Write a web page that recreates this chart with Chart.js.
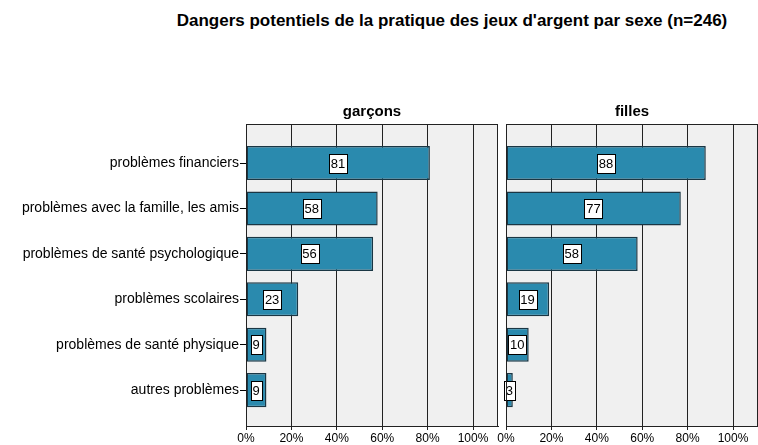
<!DOCTYPE html>
<html>
<head>
<meta charset="utf-8">
<script src="https://cdn.jsdelivr.net/npm/chart.js@4.4.1/dist/chart.umd.min.js"></script>
<style>
  html, body { margin: 0; padding: 0; background: #fff; }
  #wrap { position: relative; width: 758px; height: 445px; overflow: hidden; font-family: Arial, "Liberation Sans", sans-serif; }
  #title { position: absolute; top: 11px; left: 102px; width: 700px; text-align: center; font-weight: bold; font-size: 17px; color: #000; }
  #left { position: absolute; left: 0; top: 0; }
  #right { position: absolute; left: 496px; top: 0; }
</style>
</head>
<body>
<div id="wrap">
  <div id="title">Dangers potentiels de la pratique des jeux d'argent par sexe (n=246)</div>
  <canvas id="left" width="500" height="445"></canvas>
  <canvas id="right" width="262" height="445"></canvas>
</div>
<script>
// data (percent)
const categories = [
    'problèmes financiers',
    'problèmes avec la famille, les amis',
    'problèmes de santé psychologique',
    'problèmes scolaires',
    'problèmes de santé physique',
    'autres problèmes'
];
const garcons = [81, 58, 56, 23, 9, 9];
const filles = [88, 77, 58, 19, 10, 3];
const xTicks = [0, 20, 40, 60, 80, 100];

const fontFamily = 'Arial, "Liberation Sans", sans-serif';
const barColor = '#2a8aae';
const barBorder = '#1a3644';

// grey panel + frame
const panelPlugin = {
    id: 'panel',
    beforeDraw(chart) {
        const a = chart.chartArea;
        const ctx = chart.ctx;
        ctx.save();
        ctx.fillStyle = '#f0f0f0';
        ctx.fillRect(a.left, a.top, a.right - a.left, a.bottom - a.top);
        ctx.restore();
    },
    afterDraw(chart) {
        const a = chart.chartArea;
        const ctx = chart.ctx;
        ctx.save();
        ctx.strokeStyle = '#222';
        ctx.lineWidth = 1;
        ctx.strokeRect(Math.round(a.left) + 0.5, Math.round(a.top) + 0.5,
            Math.round(a.right - a.left) - 1, Math.round(a.bottom - a.top));
        ctx.restore();
    }
};

// white value boxes in the middle of the bars
const valueBoxPlugin = {
    id: 'valueBoxes',
    afterDatasetsDraw(chart) {
        const ctx = chart.ctx;
        const xScale = chart.scales.x;
        const meta = chart.getDatasetMeta(0);
        ctx.save();
        ctx.font = '13px ' + fontFamily;
        ctx.textAlign = 'center';
        ctx.textBaseline = 'middle';
        meta.data.forEach(function(bar, i) {
            const v = chart.data.datasets[0].data[i].x;
            const txt = String(v);
            const cx = xScale.getPixelForValue(v / 2);
            const cy = bar.y;
            const w = Math.round(ctx.measureText(txt).width) + 4;
            const h = 19;
            const x0 = Math.round(cx - w / 2) + 0.5;
            const y0 = Math.round(cy - h / 2) + 0.5;
            ctx.fillStyle = '#fff';
            ctx.fillRect(x0, y0, w, h);
            ctx.strokeStyle = '#000';
            ctx.lineWidth = 1;
            ctx.strokeRect(x0, y0, w, h);
            ctx.fillStyle = '#000';
            ctx.fillText(txt, cx, cy + 1);
        });
        ctx.restore();
    }
};

function makeChart(canvasId, values, header, showLabels, yWidth, padRight) {
    const ctx = document.getElementById(canvasId).getContext('2d');
    return new Chart(ctx, {
        type: 'bar',
        data: {
            datasets: [{
                data: values.map(function(v, i) { return { x: v, y: i }; }),
                backgroundColor: barColor,
                borderColor: barBorder,
                borderWidth: 1.5,
                borderSkipped: false,
                barPercentage: 0.75,
                categoryPercentage: 1
            }]
        },
        options: {
            indexAxis: 'y',
            responsive: false,
            animation: false,
            layout: { padding: { top: 99, right: padRight, left: 0, bottom: 0 } },
            plugins: {
                legend: { display: false },
                tooltip: { enabled: false },
                title: { display: false }
            },
            scales: {
                x: {
                    type: 'linear',
                    position: 'bottom',
                    min: 0,
                    max: 111,
                    afterBuildTicks: function(scale) {
                        scale.ticks = xTicks.map(function(v) { return { value: v }; });
                    },
                    afterFit: function(scale) { scale.height = 19; },
                    grid: { color: '#222', lineWidth: 1, tickLength: 4, tickColor: '#222' },
                    border: { display: true, color: '#222' },
                    ticks: {
                        callback: function(v) { return v + '%'; },
                        font: { size: 12, family: fontFamily },
                        color: '#000',
                        padding: 1,
                        maxRotation: 0,
                        autoSkip: false
                    }
                },
                xHead: {
                    type: 'linear',
                    position: 'top',
                    min: 0,
                    max: 1,
                    afterFit: function(scale) { scale.height = 25; },
                    grid: { display: false },
                    border: { display: false },
                    ticks: { display: false },
                    title: {
                        display: true,
                        text: header,
                        color: '#000',
                        font: { size: 15, weight: 'bold', family: fontFamily },
                        padding: { top: 4, bottom: 4 }
                    }
                },
                y: {
                    type: 'linear',
                    reverse: true,
                    offset: false,
                    min: -0.86,
                    max: 5.79,
                    afterBuildTicks: function(scale) {
                        scale.ticks = categories.map(function(c, i) { return { value: i }; });
                    },
                    afterFit: function(scale) { scale.width = yWidth; },
                    grid: {
                        offset: false,
                        drawOnChartArea: false,
                        drawTicks: showLabels,
                        tickLength: 6,
                        tickColor: '#000'
                    },
                    border: { display: true, color: '#222' },
                    ticks: {
                        display: showLabels,
                        autoSkip: false,
                        callback: function(v) { return categories[v]; },
                        font: { size: 14, family: fontFamily },
                        color: '#000',
                        padding: 1
                    }
                }
            }
        },
        plugins: [panelPlugin, valueBoxPlugin]
    });
}

const leftChart = makeChart('left', garcons, 'garçons', true, 246, 2);
const rightChart = makeChart('right', filles, 'filles', false, 10, 0);
</script>
</body>
</html>
